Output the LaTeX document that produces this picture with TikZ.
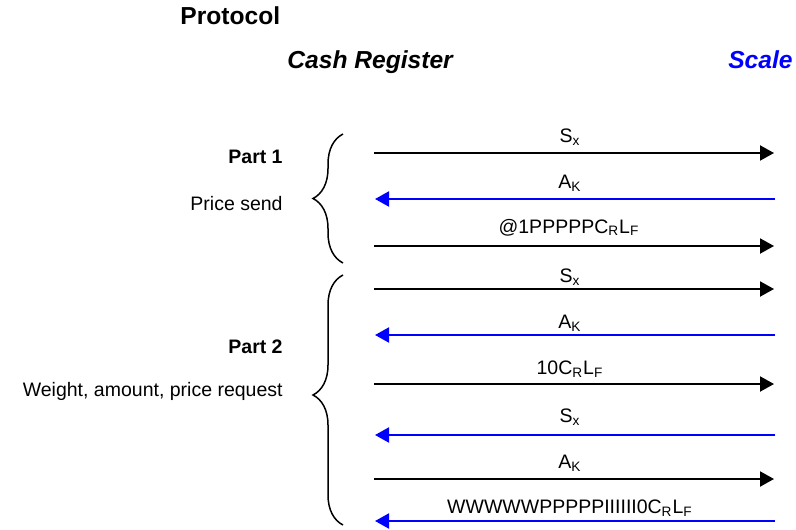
\documentclass[tikz,border=0pt]{standalone}
\usepackage{fontspec}
\setmainfont{Liberation Sans}
\usepackage{xcolor}
\usetikzlibrary{arrows.meta,decorations.pathreplacing}
\definecolor{scaleblue}{RGB}{0,0,255}
\newcommand{\subt}[1]{\textsubscript{#1}}

\begin{document}
\begin{tikzpicture}[
  x=0.5pt, y=-0.5pt,
  font=\fontsize{9.75}{12}\selectfont,
  tosc/.style={-{Triangle[length=7pt,width=7.5pt]}, line width=1pt, black},
  tocr/.style={-{Triangle[length=7pt,width=7.5pt]}, line width=1pt, scaleblue},
  lbl/.style={anchor=base, inner sep=0pt},
  txt/.style={inner sep=0pt},
  head/.style={inner sep=0pt, font=\fontsize{12.3}{14}\selectfont\bfseries\itshape},
  brc/.style={decorate, decoration={brace, amplitude=15pt}, line width=0.75pt}
]
\useasboundingbox (0,0) rectangle (796,529);
% headings
\node[txt, anchor=base west, font=\fontsize{12.3}{14}\selectfont\bfseries] (title) at (180,25) {Protocol};
\node[head, anchor=base west] (reg) at (287,69) {Cash Register};
\node[head, anchor=base east, text=scaleblue] (scale) at (793,69) {Scale};
% part descriptions
\node[txt, anchor=base east, font=\fontsize{9.75}{12}\selectfont\bfseries] (part1) at (283,164) {Part 1};
\node[txt, anchor=base east] (desc1) at (283,211) {Price send};
\node[txt, anchor=base east, font=\fontsize{9.75}{12}\selectfont\bfseries] (part2) at (283,353) {Part 2};
\node[txt, anchor=base east] (desc2) at (283,396) {Weight, amount, price request};
% braces
\coordinate (b1top) at (343,134);
\coordinate (b1bot) at (343,263);
\coordinate (b2top) at (343,275);
\coordinate (b2bot) at (343,525);
\draw[brc] (b1bot) -- (b1top);
\draw[brc, decoration={aspect=0.52}] (b2bot) -- (b2top);
% message ends
\coordinate (cr1) at (374,153); \coordinate (sc1) at (774,153);
\coordinate (cr2) at (375,199); \coordinate (sc2) at (775,199);
\coordinate (cr3) at (374,246); \coordinate (sc3) at (774,246);
\coordinate (cr4) at (374,289); \coordinate (sc4) at (774,289);
\coordinate (cr5) at (375,335); \coordinate (sc5) at (775,335);
\coordinate (cr6) at (374,384); \coordinate (sc6) at (774,384);
\coordinate (cr7) at (375,435); \coordinate (sc7) at (775,435);
\coordinate (cr8) at (374,479); \coordinate (sc8) at (774,479);
\coordinate (cr9) at (375,521); \coordinate (sc9) at (775,521);
% messages
\draw[tosc] (cr1) -- (sc1);
\draw[tocr] (sc2) -- (cr2);
\draw[tosc] (cr3) -- (sc3);
\draw[tosc] (cr4) -- (sc4);
\draw[tocr] (sc5) -- (cr5);
\draw[tosc] (cr6) -- (sc6);
\draw[tocr] (sc7) -- (cr7);
\draw[tosc] (cr8) -- (sc8);
\draw[tocr] (sc9) -- (cr9);
% message labels
\node[lbl] (m1) at (570,143) {S\subt{x}};
\node[lbl] (m2) at (570,189) {A\subt{K}};
\node[lbl] (m3) at (569,233) {@1PPPPPC\subt{R}L\subt{F}};
\node[lbl] (m4) at (570,282) {S\subt{x}};
\node[lbl] (m5) at (570,328) {A\subt{K}};
\node[lbl] (m6) at (570,374) {10C\subt{R}L\subt{F}};
\node[lbl] (m7) at (570,422) {S\subt{x}};
\node[lbl] (m8) at (570,468) {A\subt{K}};
\node[lbl] (m9) at (570,513) {WWWWWPPPPPIIIIII0C\subt{R}L\subt{F}};
\end{tikzpicture}
\end{document}
